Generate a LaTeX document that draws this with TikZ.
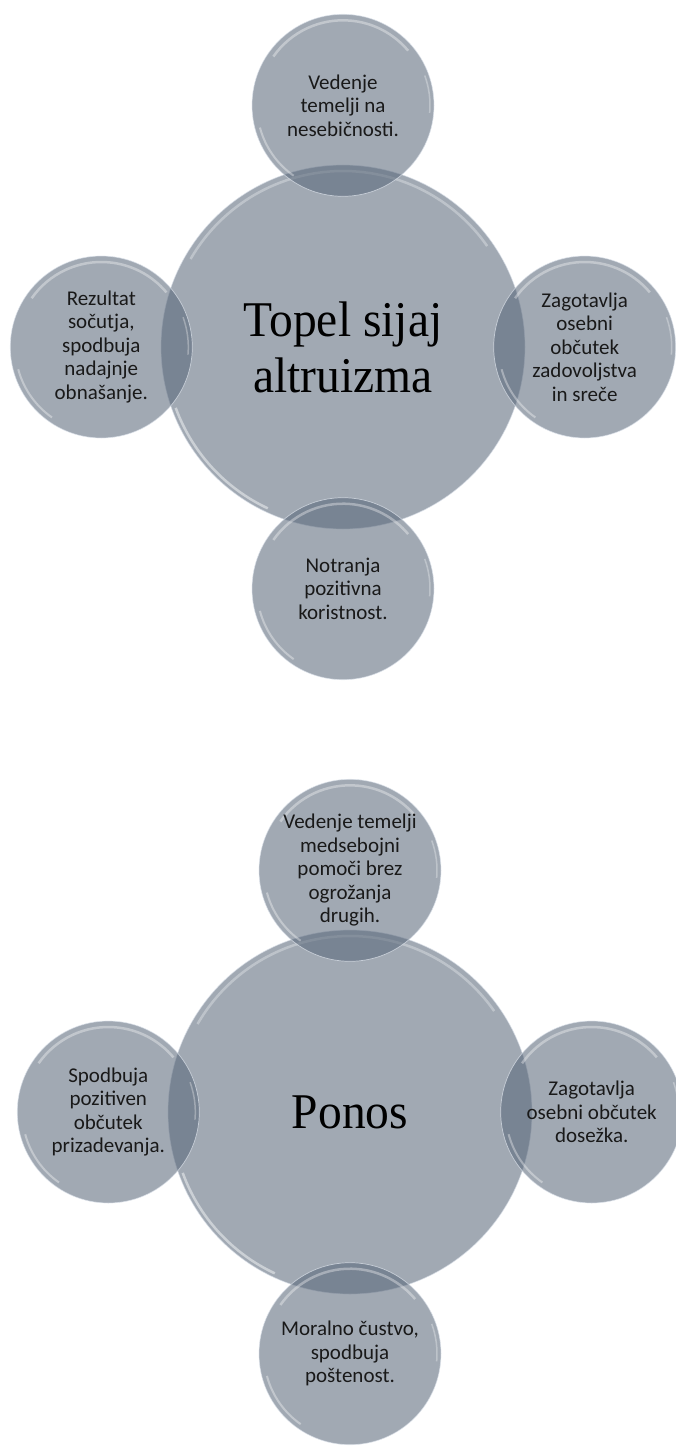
\documentclass[tikz,border=0pt]{standalone}
\usepackage{fontspec}
\newfontfamily\satfont{Carlito}
\newfontfamily\hubfont[FakeStretch=0.95]{Liberation Serif}
\usepackage{tikz}
\usetikzlibrary{positioning}
\definecolor{bubble}{RGB}{90,104,122}
\definecolor{rim}{RGB}{222,228,236}

\begin{document}
\begin{tikzpicture}[
    x=1pt,y=1pt,
    node distance=-32pt,
    bubblebase/.style={circle,fill=bubble,fill opacity=0.57,text opacity=1,draw=rim,draw opacity=0.7,line width=0.7pt,inner sep=0pt,align=center},
    hub/.style={bubblebase,minimum size=364pt,font=\hubfont\fontsize{50}{56}\selectfont,text=black,
        path picture={
            \draw[white,draw opacity=0.3,line width=2.5pt] ([shift={(150:176pt)}]path picture bounding box.center) arc[start angle=150,end angle=35,radius=176pt];
            \draw[white,draw opacity=0.45,line width=2.5pt] ([shift={(200:178pt)}]path picture bounding box.center) arc[start angle=200,end angle=245,radius=178pt];
        }},
    sat/.style={bubblebase,minimum size=182pt,font=\satfont\fontsize{21}{23.5}\selectfont,text=black!90,
        path picture={
            \draw[white,draw opacity=0.35,line width=2.5pt] ([shift={(145:85pt)}]path picture bounding box.center) arc[start angle=145,end angle=40,radius=85pt];
            \draw[white,draw opacity=0.35,line width=2pt] ([shift={(195:86pt)}]path picture bounding box.center) arc[start angle=195,end angle=235,radius=86pt];
            \draw[white,draw opacity=0.3,line width=1.5pt] ([shift={(-5:87pt)}]path picture bounding box.center) arc[start angle=-5,end angle=20,radius=87pt];
        }}
]
    \useasboundingbox (0,0) rectangle (676,-1447);

    % Topel sijaj altruizma
    \node[hub] (altruizem) at (343,-347) {Topel sijaj\\altruizma};
    \node[sat,above=of altruizem] (nesebicnost) {Vedenje\\temelji na\\nesebičnosti.};
    \node[sat,left=of altruizem] (socutje) {Rezultat\\sočutja,\\spodbuja\\nadajnje\\obnašanje.};
    \node[sat,right=of altruizem] (zadovoljstvo) {Zagotavlja\\osebni\\občutek\\zadovoljstva\\in sreče};
    \node[sat,below=of altruizem] (koristnost) {Notranja\\pozitivna\\koristnost.};

    % Ponos
    \node[hub] (ponos) at (350,-1112) {Ponos};
    \node[sat,above=of ponos] (pomoc) {Vedenje temelji\\medsebojni\\pomoči brez\\ogrožanja\\drugih.};
    \node[sat,left=of ponos] (prizadevanje) {Spodbuja\\pozitiven\\občutek\\prizadevanja.};
    \node[sat,right=of ponos] (dosezek) {Zagotavlja\\osebni občutek\\dosežka.};
    \node[sat,below=of ponos] (postenost) {Moralno čustvo,\\spodbuja\\poštenost.};
\end{tikzpicture}
\end{document}
